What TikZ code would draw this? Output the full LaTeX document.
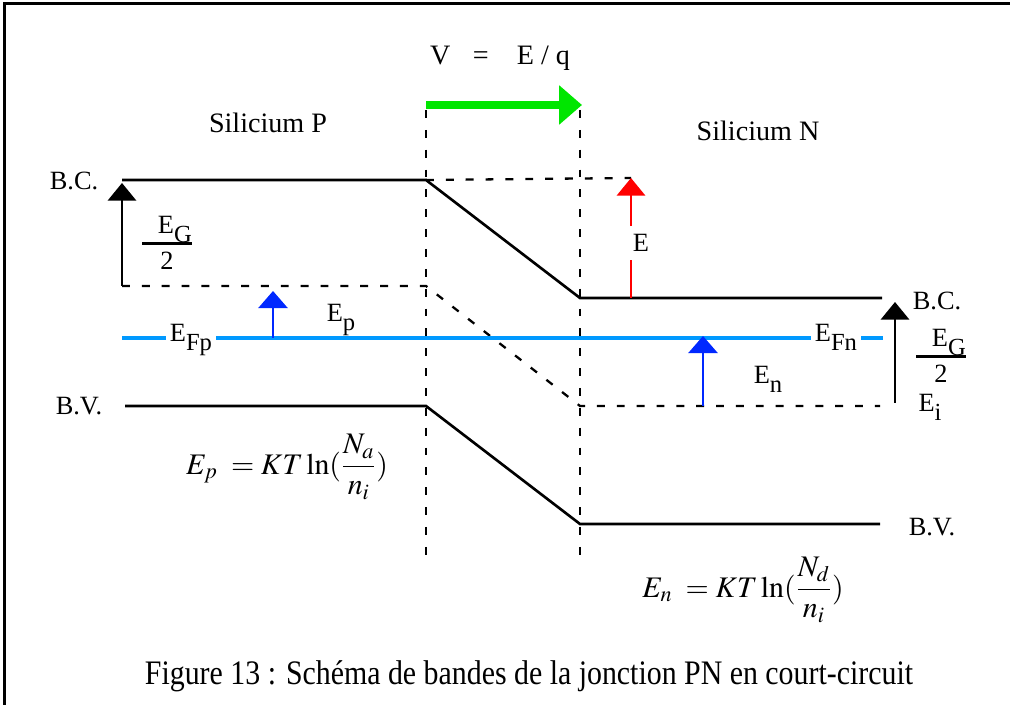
\documentclass[tikz,border=0pt]{standalone}
\usepackage{mathptmx}
\usepackage{fontspec}
\setmainfont{Liberation Serif}
\usepackage{tikz}
\usetikzlibrary{arrows.meta}
\definecolor{fermiblue}{RGB}{0,153,255}
\definecolor{ebleu}{RGB}{0,40,255}
\definecolor{vert}{RGB}{0,230,0}
\newcommand{\bsub}[1]{\raisebox{-.32em}{\fontsize{14}{14}\selectfont #1}}
\newcommand{\demiEG}{{\setlength{\arrayrulewidth}{1.3pt}\renewcommand{\arraystretch}{0.9}%
  \begin{tabular}{@{}c@{}}\hspace{.6em}E\bsub{G}\\[0pt]\hline\rule{0pt}{0.95em}2\end{tabular}}}
\tikzset{
  >={Triangle[width=16pt,length=10pt]},
  lbl/.style={inner sep=1pt, font=\fontsize{15}{18}\selectfont},
  titre/.style={inner sep=1pt, font=\fontsize{16}{19}\selectfont},
  formule/.style={inner sep=1pt, font=\fontsize{17}{20}\selectfont},
  bande/.style={line width=1.5pt},
  niveau/.style={line width=1.3pt, dash pattern=on 4.5pt off 6.8pt},
  fermiline/.style={line width=2.8pt, fermiblue},
  ecart/.style={line width=1.5pt, ->},
}

\begin{document}
\begin{tikzpicture}[x=0.02cm, y=-0.02cm]
  \useasboundingbox (0,0) rectangle (1010,705);
  % cadre
  \draw[line width=1.7pt] (4.5,705) -- (4.5,3.5) -- (1010,3.5);

  % titres
  \node[titre] (vq) at (500,58) {V\hspace{.8em}=\hspace{1em}E / q};
  \node[titre] (silP) at (268,123) {Silicium P};
  \node[titre] (silN) at (758,131) {Silicium N};

  % points des bandes
  \coordinate (bcP) at (122,180);
  \coordinate (bcJP) at (426,180);
  \coordinate (bcJN) at (580,298);
  \coordinate (bcN) at (882,298);
  \coordinate (eiP) at (122,286);
  \coordinate (eiJP) at (426,286);
  \coordinate (eiJN) at (580,406);
  \coordinate (eiN) at (880,406);
  \coordinate (bvP) at (125,406);
  \coordinate (bvJP) at (426,406);
  \coordinate (bvJN) at (580,524);
  \coordinate (bvN) at (880,524);
  \coordinate (zP) at (426,110);
  \coordinate (zPb) at (426,563);
  \coordinate (zN) at (580,110);
  \coordinate (zNb) at (580,563);
  \coordinate (eTip) at (631,178);
  \coordinate (eBase) at (631,298);

  % zone de charge d'espace
  \draw[niveau] (zP) -- (zPb);
  \draw[niveau] (zN) -- (zNb);
  \draw[niveau] (bcJP) -- (eTip);

  % bandes
  \draw[bande] (bcP) -- (bcJP) -- (bcJN) -- (bcN);
  \draw[niveau] (eiP) -- (eiJP) -- (eiJN) -- (eiN);
  \draw[bande] (bvP) -- (bvJP) -- (bvJN) -- (bvN);

  % niveau de Fermi
  \draw[fermiline] (122,338) -- (883,338);
  \node[lbl, fill=white, inner xsep=2.5pt, anchor=base] (efp) at (191,342) {E\bsub{Fp}};
  \node[lbl, fill=white, inner xsep=2.5pt, anchor=base] (efn) at (836,342) {E\bsub{Fn}};

  % tension
  \draw[line width=4.5pt, vert, -{Triangle[width=21.6pt,length=13pt]}] (426,105) -- (582,105);

  % ecarts
  \draw[ecart] (eiP) -- (122,183);
  \draw[ecart] (895,403) -- (895,302);
  \draw[ecart, ebleu, -{Triangle[width=16.5pt,length=9.7pt]}] (273,338) -- (273,291);
  \draw[ecart, ebleu, -{Triangle[width=16.5pt,length=9.7pt]}] (703,406) -- (703,336);
  \node[lbl, inner ysep=4.5pt] (elbl) at (641,243) {E};
  \draw[ecart, red, -] (eBase) -- (eBase |- elbl.south);
  \draw[ecart, red] (eBase |- elbl.north) -- (eTip);

  % etiquettes
  \node[lbl, anchor=base] (bcl) at (74,190) {B.C.};
  \node[lbl, anchor=base] (bcr) at (937,310) {B.C.};
  \node[lbl, anchor=base] (bvl) at (79,415) {B.V.};
  \node[lbl, anchor=base] (bvr) at (932,535) {B.V.};
  \node[lbl, anchor=base] (ep) at (341,322) {E\bsub{p}};
  \node[lbl, anchor=base] (en) at (768,384) {E\bsub{n}};
  \node[lbl, anchor=base] (ei) at (930,412) {E\bsub{i}};
  \node[lbl] (egl) at (167,246) {\demiEG};
  \node[lbl] (egr) at (941,359) {\demiEG};

  % formules
  \node[formule] (fp) at (287,467) {$\displaystyle E_p\; = KT\ln(\frac{N_a}{n_i})$};
  \node[formule] (fn) at (743,590) {$\displaystyle E_n\; = KT\ln(\frac{N_d}{n_i})$};

  % legende
  \node[formule] (cap) at (529,676) {\scalebox{1}[1.15]{Figure 13 : Schéma de bandes de la jonction PN en court-circuit}};
\end{tikzpicture}
\end{document}
